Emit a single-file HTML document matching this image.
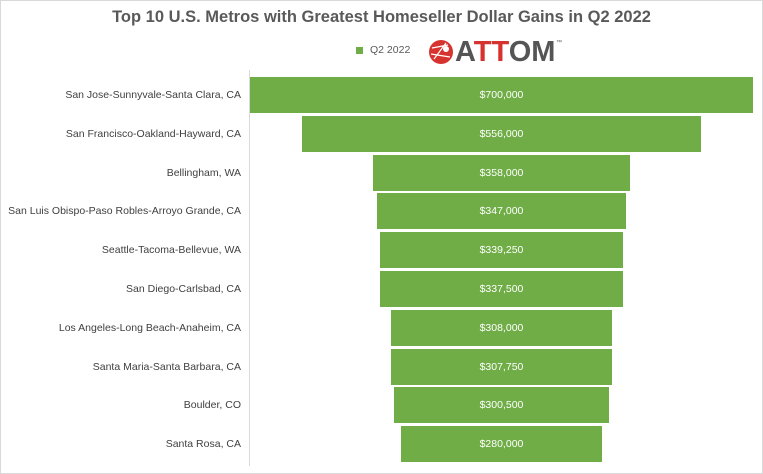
<!DOCTYPE html>
<html><head><style>
body{margin:0;width:763px;height:474px;background:#fff;font-family:"Liberation Sans",sans-serif;position:relative;overflow:hidden}
.frame{position:absolute;left:0;top:0;width:761px;height:472px;border:1px solid #d9d9d9}
.title{position:absolute;left:0;width:763px;top:8px;text-align:center;font-weight:bold;font-size:16.5px;color:#595959}
.lab{position:absolute;right:522px;font-size:10.5px;color:#404040;white-space:nowrap;transform:translateY(-50%)}
.bar{position:absolute;height:36px;background:#70ad47;color:#fff;font-size:10.5px;display:flex;align-items:center;justify-content:center}
.axis{position:absolute;left:249px;top:70px;width:1px;height:396px;background:#d9d9d9}
</style></head><body>
<div class="frame"></div>
<div class="title">Top 10 U.S. Metros with Greatest Homeseller Dollar Gains in Q2 2022</div>
<div style="position:absolute;left:356px;top:47px;width:7px;height:7px;background:#70ad47"></div>
<div style="position:absolute;left:370px;top:44px;font-size:10.5px;color:#595959">Q2 2022</div>
<svg style="position:absolute;left:428px;top:39px" width="26" height="26" viewBox="0 0 26 26"><circle cx="13" cy="13" r="12" fill="#d6322f"/><path d="M4 9 L20 6 M6 20 L18 4 M3 15 L22 18" stroke="#fff" stroke-width="1.2" fill="none"/><circle cx="18" cy="10" r="3" fill="#fff"/></svg>
<div style="position:absolute;left:455px;top:36px;font-size:29px;font-weight:bold;color:#555;letter-spacing:0px">A<span style="color:#d6322f">TT</span>OM</div>
<div style="position:absolute;left:556px;top:40px;font-size:6px;color:#555">™</div>
<div class="axis"></div>
<div id="c"></div>
<script>
var d=[["San Jose-Sunnyvale-Santa Clara, CA",700000,"$700,000"],["San Francisco-Oakland-Hayward, CA",556000,"$556,000"],["Bellingham, WA",358000,"$358,000"],["San Luis Obispo-Paso Robles-Arroyo Grande, CA",347000,"$347,000"],["Seattle-Tacoma-Bellevue, WA",339250,"$339,250"],["San Diego-Carlsbad, CA",337500,"$337,500"],["Los Angeles-Long Beach-Anaheim, CA",308000,"$308,000"],["Santa Maria-Santa Barbara, CA",307750,"$307,750"],["Boulder, CO",300500,"$300,500"],["Santa Rosa, CA",280000,"$280,000"]];
var h="";d.forEach(function(r,i){var cy=95+i*38.8;var w=r[1]*503/700000;
h+='<div class="lab" style="top:'+cy+'px">'+r[0]+'</div>';
h+='<div class="bar" style="top:'+(cy-18)+'px;left:'+(501.5-w/2)+'px;width:'+w+'px">'+r[2]+'</div>';});
document.getElementById("c").innerHTML=h;
</script>
</body></html>
